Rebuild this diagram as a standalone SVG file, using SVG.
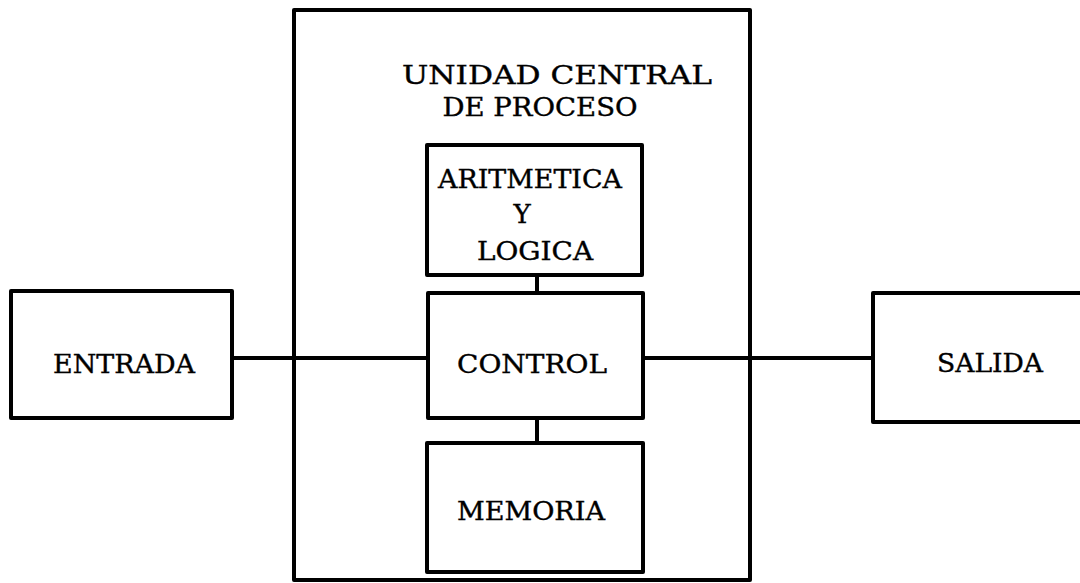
<svg xmlns="http://www.w3.org/2000/svg" width="1080" height="583" viewBox="0 0 1080 583">
<style>
.box{fill:none;stroke:#000;stroke-width:4;stroke-linejoin:round}
.ln{stroke:#000;stroke-width:4;fill:none}
text{font-family:"DejaVu Serif","Liberation Serif",serif;font-size:26px;fill:#000;stroke:#000;stroke-width:0.4;text-anchor:middle}
</style>
<rect width="1080" height="583" fill="#fff"/>
<g id="cpu">
<rect class="box" x="294" y="10" width="456" height="570"/>
<text x="557" y="84" textLength="310" lengthAdjust="spacingAndGlyphs">UNIDAD CENTRAL</text>
<text x="540" y="116" textLength="195" lengthAdjust="spacingAndGlyphs">DE PROCESO</text>
</g>
<g id="entrada">
<rect class="box" x="11" y="291" width="221" height="127"/>
<text x="124" y="373" textLength="142" lengthAdjust="spacingAndGlyphs">ENTRADA</text>
</g>
<g id="salida">
<rect class="box" x="873" y="293" width="220" height="129"/>
<text x="990" y="372" textLength="106" lengthAdjust="spacingAndGlyphs">SALIDA</text>
</g>
<g id="aritmetica">
<rect class="box" x="427" y="145" width="215" height="130"/>
<text x="530" y="188" textLength="184" lengthAdjust="spacingAndGlyphs">ARITMETICA</text>
<text x="522" y="223">Y</text>
<text x="535" y="260" textLength="116" lengthAdjust="spacingAndGlyphs">LOGICA</text>
</g>
<g id="control">
<rect class="box" x="428" y="293" width="215" height="125"/>
<text x="532" y="373" textLength="150" lengthAdjust="spacingAndGlyphs">CONTROL</text>
</g>
<g id="memoria">
<rect class="box" x="427" y="443" width="216" height="129"/>
<text x="531" y="520" textLength="148" lengthAdjust="spacingAndGlyphs">MEMORIA</text>
</g>
<g id="connectors">
<line class="ln" x1="232" y1="358" x2="428" y2="358"/>
<line class="ln" x1="643" y1="358" x2="873" y2="358"/>
<line class="ln" x1="537" y1="275" x2="537" y2="293"/>
<line class="ln" x1="537" y1="418" x2="537" y2="443"/>
</g>
</svg>
